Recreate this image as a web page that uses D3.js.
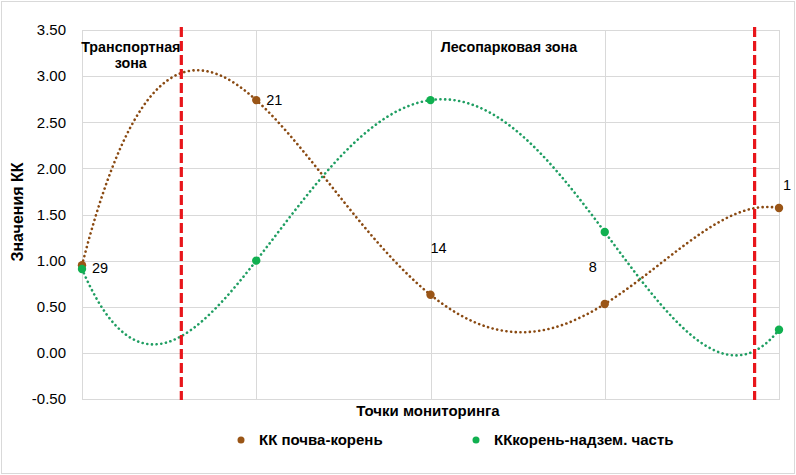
<!DOCTYPE html>
<html>
<head>
<meta charset="utf-8">
<script src="https://cdn.jsdelivr.net/npm/d3@7"></script>
<style>
  body { margin: 0; background: #fff; }
  svg { display: block; }
</style>
</head>
<body>
<script>
// monitoring points (labels drawn next to the markers)
const points = ["29", "21", "14", "8", "1"];
// КК почва-корень
const soilRoot = [0.95, 2.74, 0.63, 0.53, 1.57];
// КК корень-надземная часть
const rootShoot = [0.91, 1.00, 2.74, 1.31, 0.25];
const yTicks = [-0.5, 0, 0.5, 1, 1.5, 2, 2.5, 3, 3.5];
// zone boundaries in point-index units
const zoneBounds = [1.57, 4.86];
const zones = [
  { lines: ["Транспортная", "зона"], at: 1.28 },
  { lines: ["Лесопарковая зона"], at: 3.45 }
];
const seriesNames = ["КК почва-корень", "ККкорень-надзем. часть"];
const colors = ["#9a5516", "#10b050"];
const trendColors = ["#8a4a12", "#1f9e62"];

const W = 796, H = 475;
const svg = d3.select("body").append("svg").attr("width", W).attr("height", H);

svg.append("rect").attr("x", 1.5).attr("y", 1.5).attr("width", W - 3).attr("height", H - 3)
  .attr("fill", "#fff").attr("stroke", "#d9d9d9");

const x = d3.scaleLinear().domain([1, 5]).range([82, 779]);
const y = d3.scaleLinear().domain([-0.5, 3.5]).range([399, 30]);

// gridlines
svg.append("g").selectAll("line").data(yTicks).join("line")
  .attr("x1", x(1)).attr("x2", x(5) + 1)
  .attr("y1", d => Math.round(y(d)) + 0.5).attr("y2", d => Math.round(y(d)) + 0.5)
  .attr("stroke", "#d9d9d9");
svg.append("g").selectAll("line").data(d3.range(1, 6)).join("line")
  .attr("x1", d => Math.round(x(d)) + 0.5).attr("x2", d => Math.round(x(d)) + 0.5)
  .attr("y1", y(3.5)).attr("y2", y(-0.5))
  .attr("stroke", "#d9d9d9");

// y axis labels
const fmt = d3.format(".2f");
const yAxis = svg.append("g").attr("transform", `translate(${x(1)},0)`)
  .call(d3.axisLeft(y).tickValues(yTicks).tickFormat(d => fmt(d).replace("−", "-"))
    .tickSize(0).tickPadding(16));
yAxis.select(".domain").remove();
yAxis.selectAll("text").attr("font-family", "Liberation Sans, Arial, sans-serif")
  .attr("font-size", 15).attr("fill", "#000");

// polynomial trendline (order 4) through the series values
function lagrange(vals) {
  const n = vals.length;
  return t => {
    let s = 0;
    for (let i = 0; i < n; i++) {
      let l = 1;
      for (let j = 0; j < n; j++) if (j !== i) l *= (t - (j + 1)) / (i - j);
      s += vals[i] * l;
    }
    return s;
  };
}
const samples = d3.range(1, 5.0001, 0.02);
const line = d3.line().x(d => x(d[0])).y(d => y(d[1]));
[soilRoot, rootShoot].forEach((vals, k) => {
  const f = lagrange(vals);
  svg.append("path")
    .attr("d", line(samples.map(t => [t, f(t)])))
    .attr("fill", "none").attr("stroke", trendColors[k])
    .attr("stroke-width", 2.6).attr("stroke-linecap", "round")
    .attr("stroke-dasharray", "0.1 4.6");
});

// zone boundaries
svg.append("g").selectAll("line").data(zoneBounds).join("line")
  .attr("x1", d => x(d)).attr("x2", d => x(d))
  .attr("y1", 27).attr("y2", 400)
  .attr("stroke", "#e8161b").attr("stroke-width", 3.2).attr("stroke-dasharray", "10 4");

// markers
[soilRoot, rootShoot].forEach((vals, k) => {
  svg.append("g").selectAll("circle").data(vals).join("circle")
    .attr("cx", (d, i) => x(i + 1)).attr("cy", d => y(d)).attr("r", 4.2)
    .attr("fill", colors[k]);
});

// point labels
const labelOffsets = [[10, 8], [10, 5], [0, -42], [-16, -32], [4, -18]];
svg.append("g").selectAll("text").data(points).join("text")
  .attr("x", (d, i) => x(i + 1) + labelOffsets[i][0])
  .attr("y", (d, i) => y(soilRoot[i]) + labelOffsets[i][1])
  .text(d => d)
  .attr("font-family", "Liberation Sans, Arial, sans-serif").attr("font-size", 14.5).attr("fill", "#000");

const bold = (sel, size) => sel.attr("font-family", "Liberation Sans, Arial, sans-serif")
  .attr("font-weight", "bold").attr("font-size", size || 15).attr("fill", "#000");

// zone names
zones.forEach(z => {
  z.lines.forEach((t, i) => {
    svg.append("text").attr("x", x(z.at)).attr("y", 52 + i * 16)
      .attr("text-anchor", "middle").text(t).call(bold, 14.3);
  });
});

// axis titles
svg.append("text").attr("x", 428).attr("y", 416).attr("text-anchor", "middle")
  .text("Точки мониторинга").call(bold, 15);
svg.append("text").attr("transform", `translate(23,212) rotate(-90)`)
  .attr("text-anchor", "middle").text("Значения КК").call(bold, 16);

// legend
const legendX = [241, 476];
seriesNames.forEach((name, k) => {
  svg.append("circle").attr("cx", legendX[k]).attr("cy", 440).attr("r", 3.5).attr("fill", colors[k]);
  svg.append("text").attr("x", legendX[k] + 18).attr("y", 445).text(name).call(bold, 15);
});
</script>
</body>
</html>
